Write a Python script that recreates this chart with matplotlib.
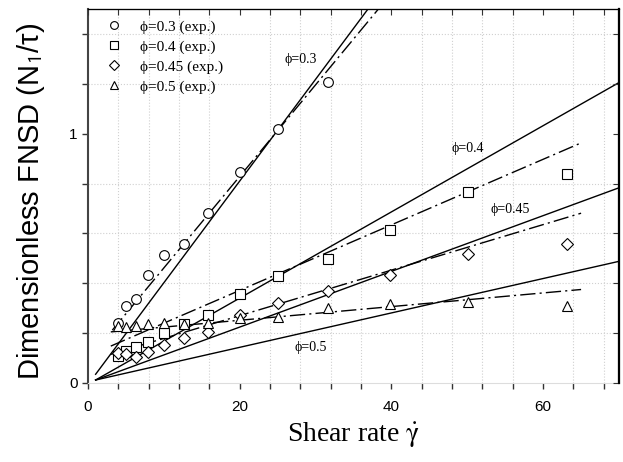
import numpy as np
import matplotlib.pyplot as plt

plt.rcParams['mathtext.fontset'] = 'stix'

# shear rates of the experiments (log spaced)
rate = [3.98, 5.01, 6.31, 7.94, 10.0, 12.6, 15.8, 20.0, 25.1, 31.6, 39.8, 50.1, 63.1]

fnsd_03 = [0.24, 0.31, 0.335, 0.435, 0.512, 0.559, 0.681, 0.845, 1.019, 1.208]
fnsd_04 = [0.11, 0.13, 0.145, 0.165, 0.199, 0.236, 0.272, 0.356, 0.428, 0.499, 0.612, 0.768, 0.839]
fnsd_045 = [0.12, 0.115, 0.105, 0.125, 0.152, 0.179, 0.205, 0.272, 0.321, 0.369, 0.432, 0.516, 0.556]
fnsd_05 = [0.228, 0.225, 0.23, 0.236, 0.241, 0.236, 0.241, 0.259, 0.265, 0.299, 0.316, 0.325, 0.308]

# theory lines (solid): end points
theory_x = [1.0, 70.0]
theory_03 = [0.035, 2.85]
theory_04 = [0.012, 1.205]
theory_045 = [0.012, 0.783]
theory_05 = [0.012, 0.488]

# fitted lines (dash-dot): end points
fit_x03 = [3.2, 38.5]
fit_03 = [0.212, 1.508]
fit_x = [3.0, 65.0]
fit_04 = [0.148, 0.963]
fit_045 = [0.115, 0.681]
fit_05 = [0.205, 0.375]

labels = ["ϕ=0.3 (exp.)", "ϕ=0.4 (exp.)", "ϕ=0.45 (exp.)", "ϕ=0.5 (exp.)"]

fig = plt.figure(figsize=(6.23, 4.62), dpi=100)
rect = [0.1413, 0.171, 0.8523, 0.8095]
ax = fig.add_axes(rect)

serif = ['Liberation Serif', 'DejaVu Serif']
sans = ['Liberation Sans', 'DejaVu Sans']
dd = (0, (11, 3, 1.5, 3))

ax.plot(theory_x, theory_03, color='black', lw=1.0)
ax.plot(theory_x, theory_04, color='black', lw=1.0)
ax.plot(theory_x, theory_045, color='black', lw=1.0)
ax.plot(theory_x, theory_05, color='black', lw=1.0)

ax.plot(fit_x03, fit_03, color='black', lw=1.0, linestyle=dd)
ax.plot(fit_x, fit_04, color='black', lw=1.0, linestyle=dd)
ax.plot(fit_x, fit_045, color='black', lw=1.0, linestyle=dd)
ax.plot(fit_x, fit_05, color='black', lw=1.0, linestyle=dd)

mk = dict(linestyle='none', mfc='white', mec='black', mew=0.8, ms=7)
ax.plot(rate[:len(fnsd_03)], fnsd_03, marker='o', label=labels[0], **mk)
ax.plot(rate, fnsd_04, marker='s', label=labels[1], **mk)
ax.plot(rate, fnsd_045, marker='D', label=labels[2], **dict(mk, ms=6.5))
ax.plot(rate, fnsd_05, marker='^', label=labels[3], **mk)

ax.text(28, 1.298, "ϕ=0.3", family=serif, fontsize=10, ha='center', va='center')
ax.text(50, 0.94, "ϕ=0.4", family=serif, fontsize=10, ha='center', va='center')
ax.text(55.7, 0.696, "ϕ=0.45", family=serif, fontsize=10, ha='center', va='center')
ax.text(29.4, 0.144, "ϕ=0.5", family=serif, fontsize=10, ha='center', va='center')

ax.set_xlim(0, 70)
ax.set_ylim(0, 1.5)
ax.set_xticks(np.arange(0, 70, 4), minor=True)
ax.set_xticks([0, 20, 40, 60])
ax.set_yticks(np.arange(0, 1.5, 0.2), minor=True)
ax.set_yticks([0, 1])
ax.set_yticklabels(['0', '1'])
ax.grid(True, which='minor', color='#d0d0d0', linestyle=':', lw=0.8)
ax.tick_params(which='both', labelsize=11, length=4, width=1, color='#333333')
ax.tick_params(axis='x', which='both', pad=8)
for lab in ax.get_xticklabels() + ax.get_yticklabels():
    lab.set_family(sans)

ax.spines['bottom'].set_color('#dddddd')
ax.spines['left'].set_color('#444444')
ax.spines['left'].set_linewidth(1.5)
ax.spines['right'].set_linewidth(1.5)

# inward ticks on top and right
ax_t = ax.twiny()
ax_t.set_xlim(0, 70)
ax_t.set_xticks(np.arange(0, 70, 4))
ax_t.tick_params(direction='in', length=4, labeltop=False, color='#333333')
ax_r = ax.twinx()
ax_r.set_ylim(0, 1.5)
ax_r.set_yticks(np.arange(0, 1.5, 0.2))
ax_r.tick_params(direction='in', length=4, labelright=False, color='#333333')
for a in (ax_t, ax_r):
    a.spines['bottom'].set_visible(False)
    a.spines['left'].set_visible(False)
    a.spines['right'].set_linewidth(1.5)

ax.set_xlabel("Shear rate $\\dot{\\mathrm{\\gamma}}$", family=serif, fontsize=20, labelpad=5)
ax.set_ylabel("Dimensionless FNSD (N$_\\mathsf{1}$/τ)", family=sans, fontsize=21)
ax.yaxis.set_label_coords(-0.077, 0.485)

ax.legend(loc='upper left', frameon=False, prop={'family': serif, 'size': 11},
          handletextpad=0.7, labelspacing=0.4, borderaxespad=0.3, markerscale=0.8)

fig.savefig("out.png", dpi=100)
